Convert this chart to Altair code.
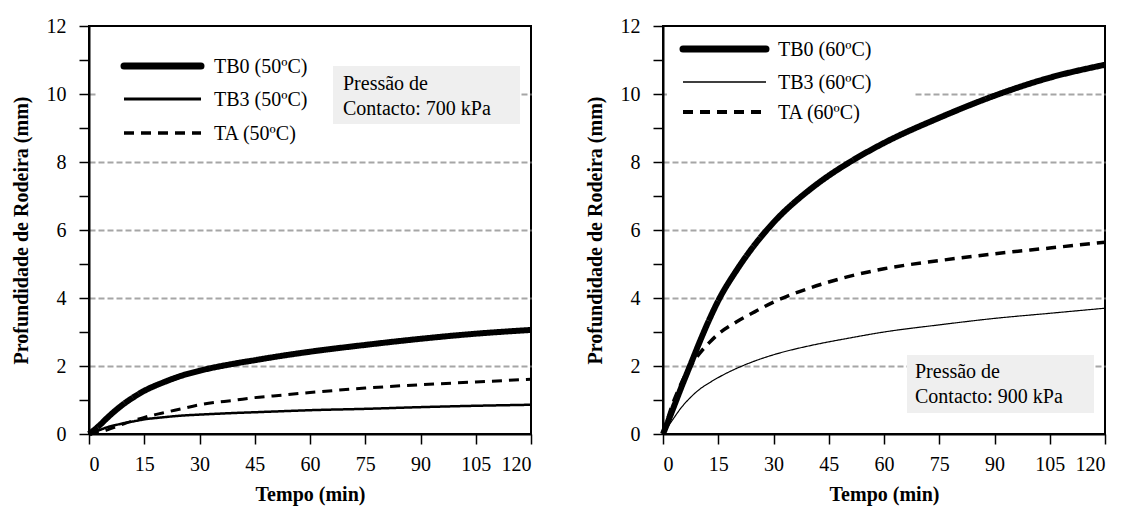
import altair as alt
import pandas as pd

# ---- data ----
T = [0, 2.5, 5, 7.5, 10, 12.5, 15, 20, 25, 30, 40, 45, 50, 60, 75, 90, 105, 120]

TB0_50 = [0, 0.22, 0.48, 0.72, 0.93, 1.11, 1.27, 1.51, 1.71, 1.86, 2.08, 2.17, 2.26, 2.42, 2.62, 2.80, 2.95, 3.06]
TB3_50 = [0, 0.10, 0.20, 0.27, 0.33, 0.38, 0.43, 0.49, 0.54, 0.57, 0.62, 0.64, 0.66, 0.70, 0.74, 0.79, 0.83, 0.86]
TA_50 = [0, 0.05, 0.12, 0.22, 0.32, 0.41, 0.49, 0.62, 0.74, 0.86, 1.00, 1.07, 1.12, 1.22, 1.35, 1.45, 1.53, 1.61]

TB0_60 = [0, 0.68, 1.38, 2.05, 2.72, 3.35, 3.92, 4.82, 5.58, 6.22, 7.20, 7.60, 7.95, 8.56, 9.30, 9.95, 10.48, 10.86]
TB3_60 = [0, 0.40, 0.78, 1.08, 1.32, 1.50, 1.66, 1.93, 2.15, 2.33, 2.60, 2.71, 2.81, 3.00, 3.21, 3.40, 3.55, 3.70]
TA_60 = [0, 0.85, 1.50, 2.00, 2.38, 2.68, 2.94, 3.30, 3.60, 3.88, 4.30, 4.47, 4.62, 4.86, 5.10, 5.30, 5.47, 5.64]

NAMES_50 = ["TB0 (50ºC)", "TB3 (50ºC)", "TA (50ºC)"]
NAMES_60 = ["TB0 (60ºC)", "TB3 (60ºC)", "TA (60ºC)"]
BOX_50 = ["Pressão de", "Contacto: 700 kPa"]
BOX_60 = ["Pressão de", "Contacto: 900 kPa"]

X_TICKS = list(range(0, 121, 15))
Y_TICKS = list(range(0, 13))

FONT = "Liberation Serif"
FS = 20
W, H = 442, 408
DASHES = [[1, 0], [1, 0], [10, 7]]


def panel(names, series, widths, box_text, box, text_xy, white, leg_x, leg_rows, text_x):
    rows = []
    for name, vals in zip(names, series):
        for t, v in zip(T, vals):
            rows.append({"t": t, "v": v, "s": name})
    df = pd.DataFrame(rows)

    one = pd.DataFrame({"k": [0]})
    layers = []
    layers.append(alt.Chart(one).mark_rect(color="white").encode(
        x=alt.value(white[0]), x2=alt.value(white[1]),
        y=alt.value(white[2]), y2=alt.value(white[3])))
    layers.append(alt.Chart(one).mark_rect(color="#efefef").encode(
        x=alt.value(box[0]), x2=alt.value(box[1]),
        y=alt.value(box[2]), y2=alt.value(box[3])))
    layers.append(alt.Chart(one).mark_text(
        align="left", baseline="alphabetic", font=FONT, fontSize=FS,
        lineHeight=25, color="black").encode(
        x=alt.value(text_xy[0]), y=alt.value(text_xy[1]),
        text=alt.value(box_text)))

    # legend (key line + label per series)
    for i, name in enumerate(names):
        ly = leg_rows[i]
        layers.append(alt.Chart(one).mark_rule(
            color="black", strokeWidth=widths[i] + (1 if i == 0 else 0.5),
            strokeDash=DASHES[i], strokeCap="round" if i == 0 else "butt").encode(
            x=alt.value(leg_x[0]), x2=alt.value(leg_x[1]), y=alt.value(ly)))
        layers.append(alt.Chart(one).mark_text(
            align="left", baseline="middle", font=FONT, fontSize=FS, color="black").encode(
            x=alt.value(text_x), y=alt.value(ly + 1), text=alt.value(name)))

    lines = alt.Chart(df).mark_line(interpolate="monotone", color="black").encode(
        x=alt.X("t:Q", scale=alt.Scale(domain=[0, 120], nice=False),
                axis=alt.Axis(values=X_TICKS, title="Tempo (min)", grid=False)),
        y=alt.Y("v:Q", scale=alt.Scale(domain=[0, 12], nice=False),
                axis=alt.Axis(values=Y_TICKS, title="Profundidade de Rodeira (mm)",
                              labelExpr="datum.value % 2 == 0 ? datum.label : ''",
                              gridOpacity={"condition": {
                                  "test": "datum.value % 2 == 1 || datum.value == 0 || datum.value == 12",
                                  "value": 0}, "value": 1})),
        strokeDash=alt.StrokeDash("s:N", scale=alt.Scale(type="ordinal", domain=names, range=DASHES),
                                  legend=None),
        strokeWidth=alt.StrokeWidth("s:N", scale=alt.Scale(type="ordinal", domain=names, range=widths),
                                    legend=None),
        order="t:Q",
    )
    layers.append(lines)
    return alt.layer(*layers).properties(width=W, height=H)


left = panel(NAMES_50, [TB0_50, TB3_50, TA_50], [6, 2.5, 3], BOX_50,
             (244, 431, 40, 98), (254, 64), (7, 244, 50, 90), (35, 112), [40, 73, 107], 125)
right = panel(NAMES_60, [TB0_60, TB3_60, TA_60], [6, 1.2, 3.5], BOX_60,
              (244, 431, 329, 387), (252, 352), (4, 251, 50, 90), (20, 103), [23, 56, 86], 115)

chart = alt.hconcat(left, right, spacing=40).resolve_scale(
    strokeDash="independent", strokeWidth="independent").properties(
    padding={"left": 10, "top": 15, "right": 5, "bottom": 5}
).configure_view(stroke="black", strokeWidth=2).configure_axis(
    domainColor="black", domainWidth=2, tickColor="black", tickWidth=1.5,
    tickSize=10, labelFont=FONT, labelFontSize=FS, labelColor="black",
    titleFont=FONT, titleFontSize=FS, titleFontWeight="bold", titleColor="black",
    gridColor="#a6a6a6", gridDash=[6, 3], gridWidth=2,
).configure_axisX(labelPadding=10, titlePadding=10).configure_axisY(
    labelPadding=13, titlePadding=15)

chart.save("out.html", embed_options={"renderer": "svg", "actions": False})
